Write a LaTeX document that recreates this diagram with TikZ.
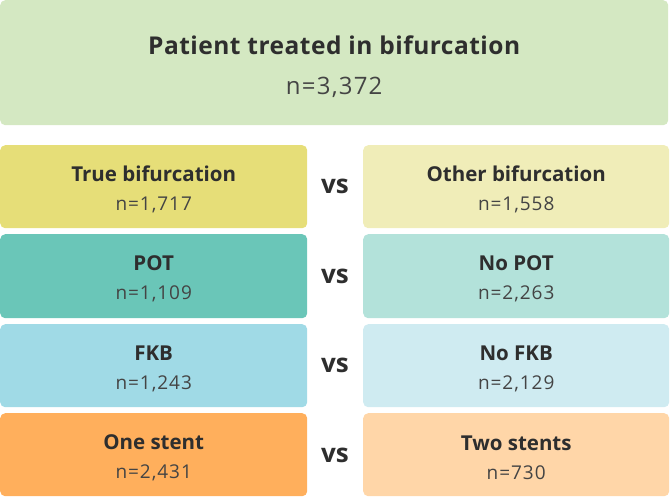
\documentclass[tikz,border=0pt]{standalone}
\usepackage{fontspec}
\setmainfont{Open Sans}
\definecolor{topgreen}{HTML}{D4E8C2}
\definecolor{trueyel}{HTML}{E6DE78}
\definecolor{otheryel}{HTML}{F0EDB8}
\definecolor{potteal}{HTML}{6AC6B8}
\definecolor{nopotteal}{HTML}{B3E2DA}
\definecolor{fkbblue}{HTML}{A0DAE6}
\definecolor{nofkbblue}{HTML}{CFEBF1}
\definecolor{onestent}{HTML}{FFAF5C}
\definecolor{twostent}{HTML}{FFD6A8}
\definecolor{inkgray}{HTML}{2E2E2E}
\definecolor{numgray}{HTML}{444444}
\newcommand{\grouplabel}[2]{\rule{0pt}{21pt}{\bfseries #1}\\{\color{numgray}\fontsize{19}{29}\selectfont\addfontfeature{LetterSpace=5}#2}}
\begin{document}
\begin{tikzpicture}[x=1pt,y=-1pt,
        box/.style={rounded corners=5pt,inner sep=0pt,anchor=north west,
            minimum width=307pt,minimum height=83pt,align=center,text=inkgray,
            font=\fontsize{20.5}{29}\selectfont},
        vslabel/.style={text=inkgray,font=\fontsize{26}{30}\selectfont\bfseries}]
    \useasboundingbox (0,0) rectangle (670,496);
    % top box
    \node[box,minimum width=668pt,minimum height=125pt,fill=topgreen,
        font=\fontsize{24.5}{40}\selectfont] (total) at (0,0)
        {\rule{0pt}{26pt}{\bfseries\addfontfeature{LetterSpace=2}Patient treated in bifurcation}\\
         {\color{numgray}\fontsize{24}{40}\selectfont\addfontfeature{LetterSpace=5}n=3,372}};
    % comparison rows
    \node[box,fill=trueyel] (truebif) at (0,145) {\grouplabel{True bifurcation}{n=1,717}};
    \node[box,fill=otheryel,minimum width=306pt] (otherbif) at (363,145) {\grouplabel{Other bifurcation}{n=1,558}};
    \node[vslabel] (vsbif) at (335,186) {vs};
    \node[box,fill=potteal,minimum height=84pt] (pot) at (0,234) {\grouplabel{POT}{n=1,109}};
    \node[box,fill=nopotteal,minimum width=306pt,minimum height=84pt] (nopot) at (363,234) {\grouplabel{No POT}{n=2,263}};
    \node[vslabel] (vspot) at (335,276) {vs};
    \node[box,fill=fkbblue] (fkb) at (0,324) {\grouplabel{FKB}{n=1,243}};
    \node[box,fill=nofkbblue,minimum width=306pt] (nofkb) at (363,324) {\grouplabel{No FKB}{n=2,129}};
    \node[vslabel] (vsfkb) at (335,365) {vs};
    \node[box,fill=onestent] (onest) at (0,413) {\grouplabel{One stent}{n=2,431}};
    \node[box,fill=twostent,minimum width=306pt] (twost) at (363,413) {\grouplabel{Two stents}{n=730}};
    \node[vslabel] (vsstent) at (335,455) {vs};
\end{tikzpicture}
\end{document}
